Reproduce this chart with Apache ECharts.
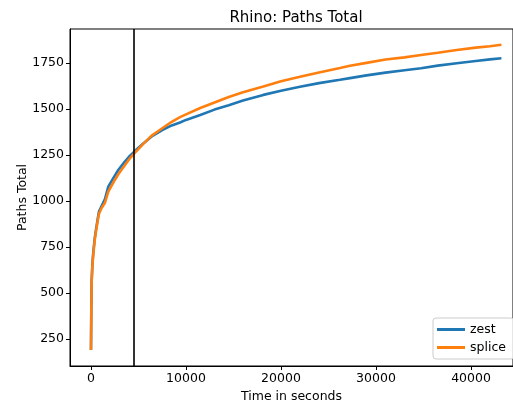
<!DOCTYPE html>
<html lang="en">
<head>
    <meta charset="UTF-8">
    <title>Rhino: Paths Total</title>
    <script src="https://cdn.jsdelivr.net/npm/echarts@6/dist/echarts.min.js"></script>
    <style>
        html, body { margin: 0; padding: 0; background: #fff; }
        #chart { width: 513px; height: 410px; }
    </style>
</head>
<body>
<div id="chart"></div>

<script>
    // time (s) and paths total
    var zestTime = [0, 30, 70, 150, 240, 400, 530, 700, 840, 1100, 1470, 1820, 2300, 2870, 3500, 4000, 4560,
        5500, 6390, 7500, 8500, 9370, 10000, 11500, 13000, 14500, 16000, 18140, 20000, 22000, 24000, 26210,
        27260, 29000, 31000, 33000, 34740, 36500, 38500, 40500, 42000, 43200];
    var zestPaths = [190, 400, 570, 660, 720, 800, 845, 900, 942, 970, 1010, 1078, 1120, 1168, 1210, 1240, 1268,
        1312, 1350, 1385, 1410, 1426, 1440, 1467, 1496, 1520, 1545, 1576, 1598, 1620, 1640, 1658,
        1667, 1682, 1697, 1710, 1721, 1735, 1748, 1760, 1769, 1775];

    var spliceTime = zestTime;
    var splicePaths = [190, 380, 560, 650, 710, 790, 835, 890, 930, 960, 990, 1050, 1095, 1145, 1190, 1225, 1258,
        1310, 1355, 1395, 1430, 1455, 1470, 1505, 1535, 1565, 1590, 1621, 1650, 1675, 1698, 1722,
        1734, 1750, 1768, 1780, 1793, 1805, 1820, 1833, 1840, 1848];

    var cutoff = 4500;
    var xTicks = [0, 10000, 20000, 30000, 40000];
    var yTicks = [250, 500, 750, 1000, 1250, 1500, 1750];

    function pairs(xs, ys) {
        var out = [];
        for (var i = 0; i < xs.length; i++) out.push([xs[i], ys[i]]);
        return out;
    }

    function plain(v) {
        return String(v);
    }

    var font = 'DejaVu Sans';
    var myChart = echarts.init(document.getElementById('chart'));
    var option = {
        animation: false,
        textStyle: {fontFamily: font},
        title: {
            text: 'Rhino: Paths Total',
            left: 291, top: 6,
            textAlign: 'center',
            textStyle: {fontFamily: font, fontSize: 15, fontWeight: 'normal', color: '#000'}
        },
        grid: {
            left: 70, top: 29, right: 0, bottom: 44,
            show: true, borderColor: '#000', borderWidth: 1
        },
        legend: {
            orient: 'vertical',
            left: 433, top: 318,
            itemWidth: 28, itemHeight: 3, itemGap: 5,
            padding: [5, 8, 5, 4],
            icon: 'rect',
            borderColor: '#cccccc', borderWidth: 1, borderRadius: 3,
            backgroundColor: 'rgba(255,255,255,0.8)',
            textStyle: {fontFamily: font, fontSize: 12.5, color: '#000'},
            data: ['zest', 'splice']
        },
        xAxis: {
            type: 'value',
            min: -2210, max: 44420,
            name: 'Time in seconds',
            nameLocation: 'middle', nameGap: 24,
            nameMoveOverlap: false,
            nameTextStyle: {fontFamily: font, fontSize: 12.5, color: '#000'},
            splitLine: {show: false},
            axisLine: {show: true, onZero: false, lineStyle: {color: '#000', width: 1}},
            axisTick: {show: true, inside: false, length: 4, customValues: xTicks, lineStyle: {color: '#000'}},
            axisLabel: {customValues: xTicks, formatter: plain, fontFamily: font, fontSize: 12.5, color: '#000', margin: 6}
        },
        yAxis: {
            type: 'value',
            min: 103, max: 1934,
            name: 'Paths Total',
            nameLocation: 'middle', nameGap: 41,
            nameMoveOverlap: false,
            nameTextStyle: {fontFamily: font, fontSize: 12.5, color: '#000'},
            splitLine: {show: false},
            axisLine: {show: true, onZero: false, lineStyle: {color: '#000', width: 1}},
            axisTick: {show: true, inside: false, length: 4, customValues: yTicks, lineStyle: {color: '#000'}},
            axisLabel: {customValues: yTicks, formatter: plain, fontFamily: font, fontSize: 12.5, color: '#000', margin: 6}
        },
        series: [
            {
                name: 'zest',
                type: 'line',
                showSymbol: false,
                color: '#1f77b4',
                lineStyle: {width: 2.6, color: '#1f77b4'},
                data: pairs(zestTime, zestPaths),
                markLine: {
                    silent: true,
                    symbol: 'none',
                    label: {show: false},
                    lineStyle: {color: '#000', width: 1.6, type: 'solid'},
                    data: [{xAxis: cutoff}]
                }
            },
            {
                name: 'splice',
                type: 'line',
                showSymbol: false,
                color: '#ff7f0e',
                lineStyle: {width: 2.6, color: '#ff7f0e'},
                data: pairs(spliceTime, splicePaths)
            }
        ]
    };
    myChart.setOption(option);
</script>
</body>
</html>
